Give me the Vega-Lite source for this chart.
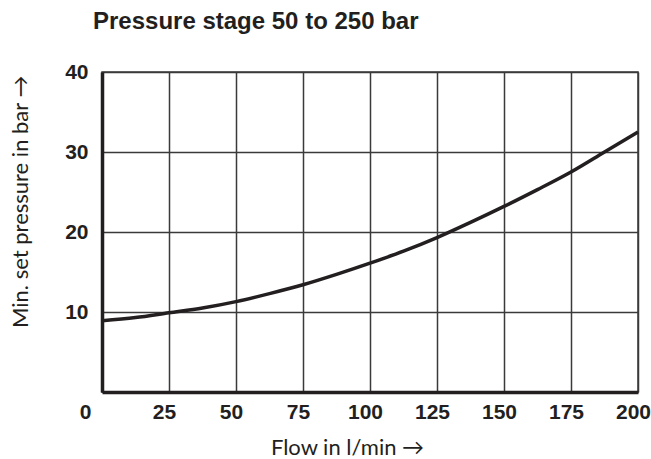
{
  "$schema": "https://vega.github.io/schema/vega-lite/v6.json",
  "width": 536,
  "height": 320,
  "autosize": "none",
  "padding": {"left": 102, "top": 72, "right": 13, "bottom": 67},
  "background": "white",
  "title": {
    "text": "Pressure stage 50 to 250 bar",
    "anchor": "start",
    "frame": "group",
    "dx": -9,
    "offset": 27,
    "font": "Liberation Sans",
    "fontSize": 24,
    "fontWeight": "bold",
    "color": "#231f20"
  },
  "config": {
    "view": {"stroke": "#3a3a3a", "strokeWidth": 1.5}
  },
  "data": {
    "values": [
      {"flow": 0, "p": 8.9},
      {"flow": 12.5, "p": 9.3},
      {"flow": 25, "p": 9.9},
      {"flow": 37.5, "p": 10.5},
      {"flow": 50, "p": 11.3},
      {"flow": 62.5, "p": 12.3},
      {"flow": 75, "p": 13.4},
      {"flow": 87.5, "p": 14.7},
      {"flow": 100, "p": 16.1},
      {"flow": 112.5, "p": 17.6},
      {"flow": 125, "p": 19.3},
      {"flow": 137.5, "p": 21.2},
      {"flow": 150, "p": 23.2},
      {"flow": 162.5, "p": 25.3},
      {"flow": 175, "p": 27.5},
      {"flow": 187.5, "p": 30.0},
      {"flow": 200, "p": 32.5}
    ]
  },
  "mark": {"type": "line", "color": "#231f20", "strokeWidth": 3.5, "interpolate": "monotone"},
  "encoding": {
    "x": {
      "field": "flow",
      "type": "quantitative",
      "scale": {"domain": [0, 200], "nice": false},
      "axis": {
        "values": [0, 25, 50, 75, 100, 125, 150, 175, 200],
        "title": "Flow in l/min →",
        "titleFont": "Lato",
        "titleFontSize": 22,
        "titleFontWeight": "normal",
        "titleColor": "#231f20",
        "titleBaseline": "alphabetic",
        "titleX": 245,
        "titleY": 62,
        "labelFont": "Liberation Sans",
        "labelFontSize": 21,
        "labelFontWeight": "bold",
        "labelColor": "#231f20",
        "labelPadding": 9,
        "labelFlush": false,
        "labelOverlap": false,
        "labelOffset": {"condition": {"test": "datum.value == 0", "value": -17}, "value": -5},
        "ticks": false,
        "domainColor": "#231f20",
        "domainWidth": 3.5,
        "gridColor": "#3a3a3a",
        "gridWidth": 1.5,
        "gridOpacity": 1
      }
    },
    "y": {
      "field": "p",
      "type": "quantitative",
      "scale": {"domain": [0, 40], "nice": false},
      "axis": {
        "values": [10, 20, 30, 40],
        "title": "Min. set pressure in bar →",
        "titleFont": "Lato",
        "titleFontSize": 22,
        "titleFontWeight": "normal",
        "titleColor": "#231f20",
        "titleBaseline": "alphabetic",
        "titleAngle": -90,
        "titleAlign": "right",
        "titleX": -75,
        "titleY": 3,
        "labelFont": "Liberation Sans",
        "labelFontSize": 21,
        "labelFontWeight": "bold",
        "labelColor": "#231f20",
        "labelPadding": 14,
        "labelFlush": false,
        "labelOverlap": false,
        "ticks": false,
        "domainColor": "#231f20",
        "domainWidth": 3.5,
        "gridColor": "#3a3a3a",
        "gridWidth": 1.5,
        "gridOpacity": 1
      }
    }
  }
}
